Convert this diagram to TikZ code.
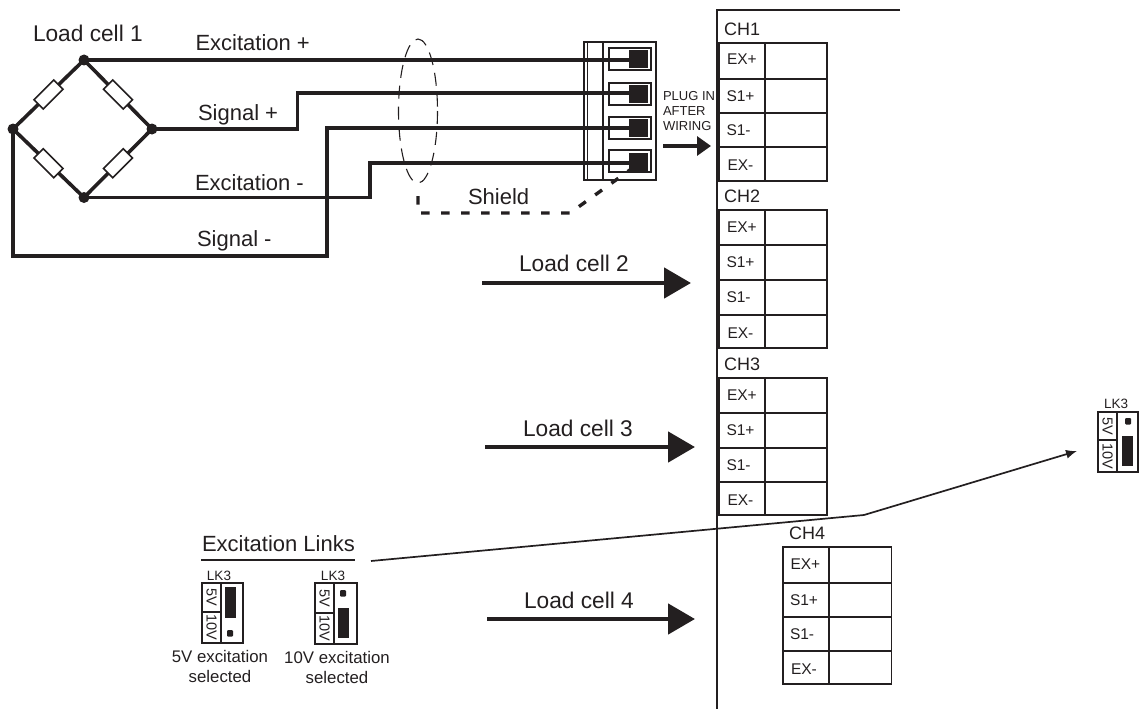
\documentclass[tikz,border=0pt]{standalone}
\usepackage{fontspec}
\setmainfont{Liberation Sans}
\usetikzlibrary{arrows.meta,calc}
\definecolor{ink}{HTML}{231F20}
\tikzset{
  x=1pt,y=-1pt,
  every node/.style={text=ink,inner sep=0pt,outer sep=0pt},
  wire/.style={draw=ink,line width=3.6pt,line join=miter},
  thin line/.style={draw=ink,line width=1.7pt},
  hair/.style={draw=ink,line width=1.1pt},
  boxline/.style={draw=ink,line width=1.7pt},
  junction/.style={circle,fill=ink,minimum size=11pt},
  resistor/.style={draw=ink,fill=white,line width=1.5pt,minimum width=28pt,minimum height=13pt},
  lbl/.style={font=\fontsize{22}{24}\selectfont,anchor=base west},
  loadlbl/.style={font=\fontsize{22.7}{24}\selectfont,anchor=base west},
  chlabel/.style={font=\fontsize{18}{20}\selectfont,anchor=base west},
  cell/.style={font=\fontsize{15.5}{17}\selectfont,anchor=base west},
  small/.style={font=\fontsize{16.8}{20}\selectfont,align=center,anchor=base},
  lk/.style={font=\fontsize{13.5}{15}\selectfont,anchor=center},
  lkv/.style={font=\fontsize{14.5}{15}\selectfont,anchor=center,rotate=-90},
  plug/.style={font=\fontsize{13}{15}\selectfont,align=left,anchor=north west},
  bigarrow/.style={draw=ink,line width=4.8pt,-{Triangle[length=27pt,width=30pt,fill=ink]}},
  plugarrow/.style={draw=ink,line width=3.2pt,-{Triangle[length=14pt,width=19pt,fill=ink]}},
  shield/.style={draw=ink,line width=3.4pt,dash pattern=on 8.5pt off 11.5pt},
  shell/.style={draw=ink,line width=1.1pt,dash pattern=on 13pt off 8pt},
  blk/.style={fill=ink,draw=none},
}
\newcommand{\chblock}[9]{%
  % #1 left #2 col #3 right #4 y0 #5 y1 #6 y2 #7 y3 #8 y4 #9 cell-text x
  \draw[boxline] (#1,#4) rectangle (#3,#8);
  \draw[boxline] (#2,#4) -- (#2,#8);
  \draw[boxline] (#1,#5) -- (#3,#5);
  \draw[boxline] (#1,#6) -- (#3,#6);
  \draw[boxline] (#1,#7) -- (#3,#7);
  \node[cell] at (#9+0.5,#4+22) {EX+};
  \node[cell] at (#9,#5+22) {S1+};
  \node[cell] at (#9,#6+22) {S1-};
  \node[cell] at (#9+1,#7+23) {EX-};
}
\newcommand{\lklink}[6]{%
  % #1 left #2 divider #3 right #4 top #5 mid #6 bottom
  \draw[boxline] (#1,#4) rectangle (#3,#6);
  \draw[boxline] (#2,#4) -- (#2,#6);
  \draw[boxline] (#1,#5) -- (#2,#5);
  \node[lkv] at ({(#1+#2)/2},{(#4+#5)/2}) {5V};
  \node[lkv] at ({(#1+#2)/2},{(#5+#6)/2}) {10V};
}
\begin{document}
\begin{tikzpicture}
\useasboundingbox (0,0) rectangle (1145,709);
% bridge
\coordinate (T) at (84,60);
\coordinate (L) at (13,129);
\coordinate (R) at (152,129);
\coordinate (B) at (84,197.5);
\draw[wire] (T) -- (L) -- (B) -- (R) -- cycle;
\node[resistor,rotate=-45] (r1) at ($(T)!0.5!(R)$) {};
\node[resistor,rotate=45] (r2) at ($(T)!0.5!(L)$) {};
\node[resistor,rotate=-45] (r3) at ($(L)!0.5!(B)$) {};
\node[resistor,rotate=45] (r4) at ($(B)!0.5!(R)$) {};
\node[junction] (jT) at (T) {};
\node[junction] (jL) at (L) {};
\node[junction] (jR) at (R) {};
\node[junction] (jB) at (B) {};
% labels
\node[loadlbl] (t1) at (33,42) {Load cell 1};
\node[lbl] (t2) at (195.5,51) {Excitation +};
\node[lbl] (t3) at (198,120.5) {Signal +};
\node[lbl] (t4) at (195,190.5) {Excitation -};
\node[lbl] (t5) at (197,246.5) {Signal -};
\node[lbl] (t6) at (468,204.5) {Shield};
% connector
\draw[hair,line width=1.5pt] (584,42) rectangle (656,180);
\draw[hair] (587.5,42) -- (587.5,180);
\draw[hair] (603,42) -- (603,180);
\foreach \y/\h/\by in {48/22/50,83/22/85,117/22/119,150/22/153}{
  \draw[boxline] (609,\y) rectangle ++(42,\h);
  \fill[blk] (629,\by) rectangle ++(19,18);
}
\coordinate (p1) at (632,60);
\coordinate (p2) at (632,93);
\coordinate (p3) at (632,128);
\coordinate (p4) at (632,163);
% wires
\draw[wire] (jT.center) -- (p1);
\draw[wire] (jR.center) -- (297.5,129) -- (297.5,93) -- (p2);
\draw[wire] (jL.center) -- (13,256) -- (327,256) -- (327,128) -- (p3);
\draw[wire] (jB.center) -- (370,197.5) -- (370,163) -- (p4);
% shield
\draw[shell] (418,111) ellipse [x radius=19.5,y radius=72];
\coordinate (s0) at (418,196);
\coordinate (s1) at (418,213);
\coordinate (s2) at (570,213);
\coordinate (s3) at (634,167);
\draw[shield] (s0) -- (s1) -- (s2) -- (s3);
% plug
\node[plug] (plugt) at (663,91) {PLUG IN\\AFTER\\WIRING};
\coordinate (a0) at (663,146);
\coordinate (a1) at (711,146);
\draw[plugarrow] (a0) -- (a1);
% chassis
\coordinate (c0) at (717,10);
\coordinate (c1) at (900,10);
\coordinate (c2) at (717,709);
\draw[thin line] (c1) -- (c0) -- (c2);
% channel blocks
\node[chlabel] (ch1) at (724,35.5) {CH1};
\chblock{719}{765}{827}{43}{79}{113}{147}{181}{726.5}
\node[chlabel] (ch2) at (724,202.5) {CH2};
\chblock{719}{765}{827}{210}{245}{280}{315}{348}{726.5}
\node[chlabel] (ch3) at (724,370.5) {CH3};
\chblock{719}{765}{827}{378}{413}{448}{482}{515}{726.5}
\node[chlabel] (ch4) at (789,539.5) {CH4};
\chblock{783}{829}{891.5}{547}{583}{617}{651}{684}{790}
% load cell arrows
\node[loadlbl] (l2) at (519,271.5) {Load cell 2};
\node[loadlbl] (l3) at (523,436.5) {Load cell 3};
\node[loadlbl] (l4) at (524,608.5) {Load cell 4};
\coordinate (b2a) at (482,283); \coordinate (b2b) at (691,283);
\coordinate (b3a) at (485,447); \coordinate (b3b) at (695,447);
\coordinate (b4a) at (487,619); \coordinate (b4b) at (695,619);
\draw[bigarrow] (b2a) -- (b2b);
\draw[bigarrow] (b3a) -- (b3b);
\draw[bigarrow] (b4a) -- (b4b);
% excitation links
\node[lbl] (xl) at (202,551.5) {Excitation Links};
\coordinate (u0) at (201,560); \coordinate (u1) at (355,560);
\draw[thin line] (u0) -- (u1);
\coordinate (e0) at (371,561);
\coordinate (e1) at (864,515);
\coordinate (e2) at (1077,451);
\draw[thin line,-{Latex[length=11pt,width=9pt]}] (e0) -- (e1) -- (e2);
% links
\node[lk] (lk1) at (219,576) {LK3};
\lklink{202}{221}{243}{583}{612}{643}
\fill[blk] (225,587) rectangle (236,618);
\fill[blk,rounded corners=1pt] (227,630) rectangle (233,636.5);
\node[lk] (lk2) at (333,576) {LK3};
\lklink{315}{334}{357}{583}{613}{644}
\fill[blk,rounded corners=1pt] (340,590) rectangle (346,596.5);
\fill[blk] (338,608) rectangle (349,638);
\node[lk] (lk3) at (1116,404) {LK3};
\lklink{1098}{1117}{1138}{412}{440}{472}
\fill[blk,rounded corners=1pt] (1125,418) rectangle (1131,424.5);
\fill[blk] (1122,436) rectangle (1133,466);
\node[small] (cap1a) at (220,662) {5V excitation};
\node[small] (cap1b) at (220,682) {selected};
\node[small] (cap2a) at (337,663) {10V excitation};
\node[small] (cap2b) at (337,683) {selected};
\end{tikzpicture}
\end{document}
